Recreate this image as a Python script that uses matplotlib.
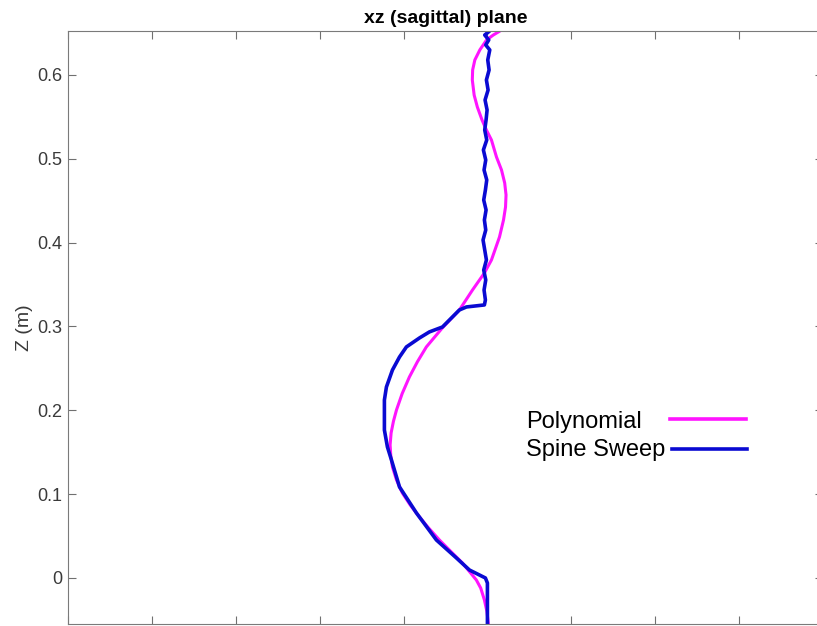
import numpy as np
import matplotlib
matplotlib.use('Agg')
import matplotlib.pyplot as plt

plt.rcParams['font.family'] = ['Liberation Sans', 'DejaVu Sans']

# polynomial fit curve (x horizontal, z vertical) [m]
poly_z = [-0.0549, -0.040, -0.0262, -0.012, -0.0024, 0.0179, 0.030, 0.0453, 0.060,
          0.0728, 0.0870, 0.1014, 0.117, 0.1324, 0.1460, 0.1587, 0.1730, 0.187,
          0.2004, 0.220, 0.2398, 0.258, 0.2756, 0.298, 0.3197, 0.3435, 0.3638,
          0.3793, 0.3913, 0.4068, 0.4271, 0.4426, 0.4569, 0.4712, 0.4867, 0.5022,
          0.5225, 0.5344, 0.5463, 0.5618, 0.576, 0.5941, 0.606, 0.6179, 0.630,
          0.6418, 0.6477, 0.6525]
poly_x = [0.0006, -0.0003, -0.0018, -0.0040, -0.0066, -0.0149, -0.0210, -0.0286, -0.0352,
          -0.0405, -0.0460, -0.0507, -0.0542, -0.0566, -0.0576, -0.0580, -0.0574, -0.0560,
          -0.0542, -0.0508, -0.0465, -0.0417, -0.0364, -0.0270, -0.0167, -0.0089, -0.0018,
          0.0024, 0.0045, 0.0072, 0.0096, 0.0108, 0.0111, 0.0103, 0.0084, 0.0054,
          0.0024, -0.0006, -0.0032, -0.0060, -0.0079, -0.0090, -0.0088, -0.0075, -0.0045,
          -0.0005, 0.0035, 0.0075]

# spine sweep trace
spine_z = [-0.0549, -0.0262, -0.0060, 0.0, 0.0036, 0.0095, 0.0239, 0.0453, 0.0775,
           0.1086, 0.1408, 0.1563, 0.1765, 0.2123, 0.2278, 0.2481, 0.2636, 0.2756,
           0.2863, 0.2935, 0.2994, 0.3197, 0.3233, 0.3257, 0.3316, 0.3435, 0.3555,
           0.3674, 0.3793, 0.3913, 0.4032, 0.4151, 0.4271, 0.4390, 0.4509, 0.4628,
           0.4748, 0.4867, 0.4986, 0.5106, 0.5225, 0.5344, 0.5463, 0.5583, 0.5702,
           0.5821, 0.5941, 0.6060, 0.6179, 0.6299, 0.6358, 0.6418, 0.6477, 0.6513]
spine_x = [0.0, 0.0, 0.0, -0.0012, -0.0048, -0.0107, -0.0185, -0.0304, -0.0423,
           -0.0524, -0.0572, -0.0596, -0.0614, -0.0614, -0.0602, -0.0566, -0.0524, -0.0483,
           -0.0405, -0.0346, -0.0268, -0.0167, -0.0125, -0.0018, -0.0012, -0.0020, -0.0010,
           -0.0022, -0.0006, -0.0016, -0.0026, -0.0010, -0.0018, -0.0008, -0.0022, -0.0012,
           -0.0004, -0.0020, -0.0010, -0.0024, -0.0004, -0.0016, -0.0008, -0.0002, -0.0014,
           0.0004, -0.0006, 0.0010, 0.0002, 0.0014, -0.0010, 0.0008, -0.0016, 0.0006]

yticks = [0, 0.1, 0.2, 0.3, 0.4, 0.5, 0.6]
ytick_labels = ['0', '0.1', '0.2', '0.3', '0.4', '0.5', '0.6']
xticks = np.arange(-0.25, 0.2001, 0.05)

fig = plt.figure(figsize=(8.17, 6.26), dpi=100)
ax = fig.add_axes([0.0832, 0.0032, 0.9241, 0.9473])

ax.plot(poly_x, poly_z, color='#ff14ff', lw=2.2, solid_capstyle='round')
ax.plot(spine_x, spine_z, color='#0a0ad2', lw=2.6, solid_joinstyle='round')

ax.set_xlim(-0.25, 0.2)
ax.set_ylim(-0.0549, 0.6525)
ax.set_xticks(xticks)
ax.set_xticklabels([])
ax.set_yticks(yticks)
ax.set_yticklabels(ytick_labels)
ax.tick_params(direction='in', length=5.5, width=0.8, color='#707070',
               labelsize=13, labelcolor='#3a3a3a', pad=4.3,
               top=True, right=True)
for s in ax.spines.values():
    s.set_color('#7a7a7a')
    s.set_linewidth(0.8)

ax.set_ylabel('Z (m)', fontsize=14, color='#3a3a3a', labelpad=3)
ax.set_title('xz (sagittal) plane', fontsize=14, fontweight='bold', pad=5.8)

# legend in the MATLAB style: text left, line sample to the right
ax.text(0.6066, 0.3305, 'Polynomial', transform=ax.transAxes, fontsize=17, va='baseline', ha='left')
ax.text(0.6066, 0.2833, 'Spine Sweep', transform=ax.transAxes, fontsize=17, va='baseline', ha='left')
ax.plot([0.797, 0.898], [0.3457, 0.3457], transform=ax.transAxes, color='#ff14ff', lw=2.6)
ax.plot([0.800, 0.899], [0.2951, 0.2951], transform=ax.transAxes, color='#0a0ad2', lw=2.6)

plt.savefig('out.png', dpi=100)
